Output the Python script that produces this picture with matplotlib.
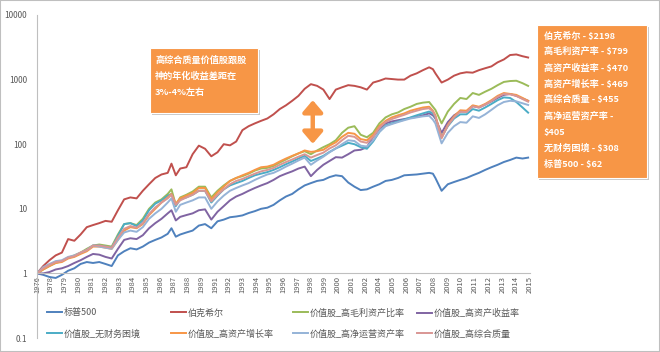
import numpy as np
import matplotlib
matplotlib.use('Agg')
import matplotlib.pyplot as plt
from matplotlib.patches import Rectangle, FancyArrowPatch

plt.rcParams['font.family'] = ['Noto Sans CJK SC', 'DejaVu Sans']

W, H = 660, 352

# time grid (years, half-year steps plus a few turning points)
t = [1976.0, 1976.5, 1977.0, 1977.5, 1978.0, 1978.5, 1979.0, 1979.5, 1980.0, 1980.5,
     1981.0, 1981.5, 1982.0, 1982.5, 1983.0, 1983.5, 1984.0, 1984.5, 1985.0, 1985.5,
     1986.0, 1986.5, 1986.8, 1987.15, 1987.5, 1988.0, 1988.5, 1989.0, 1989.5, 1990.0,
     1990.5, 1991.0, 1991.5, 1992.0, 1992.5, 1993.0, 1993.5, 1994.0, 1994.5, 1995.0,
     1995.5, 1996.0, 1996.5, 1997.0, 1997.5, 1998.0, 1998.5, 1999.0, 1999.5, 2000.0,
     2000.5, 2001.0, 2001.5, 2002.0, 2002.5, 2003.0, 2003.5, 2004.0, 2004.5, 2005.0,
     2005.5, 2006.0, 2006.5, 2007.0, 2007.5, 2007.8, 2008.0, 2008.5, 2009.0, 2009.5,
     2010.0, 2010.5, 2011.0, 2011.5, 2012.0, 2012.5, 2013.0, 2013.5, 2014.0, 2014.5,
     2015.0, 2015.45]

sp500 = [1.0, 0.95, 0.88, 0.85, 0.95, 1.1, 1.2, 1.4, 1.5, 1.45,
         1.5, 1.4, 1.3, 1.9, 2.2, 2.45, 2.35, 2.6, 3.0, 3.3,
         3.6, 4.1, 5.0, 3.7, 4.0, 4.3, 4.6, 5.5, 5.8, 5.0,
         6.4, 6.8, 7.4, 7.6, 7.9, 8.6, 9.2, 10.0, 10.4, 11.5,
         13.5, 15.5, 17, 20, 23, 25, 27, 28, 31, 33,
         32, 25.5, 22, 19.5, 20, 22, 24, 27, 28, 30,
         33, 33.5, 34, 35, 36, 35, 30, 19, 24, 26,
         28, 30, 33, 36, 40, 44, 48, 53, 57, 62,
         60, 62]

brk = [1.0, 1.3, 1.6, 1.9, 2.1, 3.4, 3.2, 4.0, 5.2, 5.6,
       6.0, 6.5, 6.3, 9.5, 14, 15, 14.5, 19, 24, 30,
       34, 36, 50, 33, 42, 44, 70, 95, 85, 65,
       75, 100, 96, 110, 165, 190, 210, 230, 250, 290,
       350, 400, 470, 560, 720, 850, 800, 700, 500, 700,
       760, 820, 800, 760, 700, 900, 960, 1040, 1020, 1000,
       1000, 1150, 1250, 1400, 1550, 1450, 1250, 900, 1000, 1150,
       1250, 1300, 1280, 1400, 1500, 1600, 1850, 2050, 2400, 2450,
       2300, 2198]

gross_profit = [1.0, 1.15, 1.3, 1.45, 1.55, 1.75, 1.9, 2.1, 2.4, 2.7,
                2.8, 2.7, 2.6, 4.0, 5.8, 6.0, 5.6, 7.0, 10, 12.5,
                14, 17, 20, 11.5, 15, 16.5, 18.5, 22, 22, 15,
                19, 23, 27, 30, 32, 35, 39, 42, 43, 46,
                52, 58, 65, 72, 78, 70, 80, 90, 100, 115,
                150, 180, 190, 140, 128, 150, 210, 260, 290, 310,
                350, 380, 420, 440, 450, 380, 340, 210, 320, 420,
                520, 500, 620, 580, 650, 720, 820, 920, 950, 960,
                880, 799]

roa = [1.0, 1.0, 1.05, 1.15, 1.2, 1.3, 1.45, 1.6, 1.8, 2.0,
       1.95, 1.8, 1.7, 2.4, 3.3, 3.5, 3.4, 3.9, 5.0, 6.0,
       7.0, 8.5, 9.5, 6.6, 7.5, 8.0, 8.5, 9.5, 9.8, 6.8,
       9, 11, 13.5, 15.5, 17, 19, 21, 23, 25, 28,
       32, 35, 38, 42, 45, 32, 40, 48, 55, 63,
       62, 70, 80, 82, 90, 130, 175, 210, 225, 235,
       245, 255, 265, 280, 300, 280, 250, 150, 220, 280,
       320, 320, 390, 370, 410, 460, 520, 580, 600, 560,
       510, 470]

no_distress = [1.0, 1.2, 1.35, 1.5, 1.55, 1.75, 1.85, 2.05, 2.3, 2.7,
               2.7, 2.6, 2.5, 3.8, 5.8, 6.0, 5.4, 6.6, 9.5, 12,
               13.5, 16, 17, 11, 14, 15, 16.5, 19, 19, 12.5,
               16, 20, 23, 25, 27, 30, 33, 35, 37, 40,
               44, 49, 54, 60, 66, 55, 60, 66, 76, 86,
               95, 105, 100, 90, 85, 110, 155, 195, 210, 225,
               240, 260, 280, 300, 320, 300, 260, 130, 190, 250,
               290, 290, 350, 330, 370, 420, 480, 530, 520, 450,
               370, 308]

asset_growth = [1.0, 1.15, 1.3, 1.45, 1.5, 1.7, 1.8, 2.0, 2.2, 2.6,
                2.6, 2.5, 2.4, 3.3, 4.6, 5.2, 5.0, 5.8, 8, 10,
                12.5, 15, 17, 12, 14.5, 16, 17.5, 21, 21, 14,
                18, 22, 27, 30, 33, 36, 40, 44, 45, 48,
                54, 60, 66, 72, 80, 76, 78, 82, 95, 107,
                130, 150, 145, 120, 115, 140, 190, 230, 260, 280,
                300, 330, 350, 370, 380, 330, 280, 125, 200, 270,
                335, 330, 400, 380, 420, 480, 560, 620, 600, 580,
                520, 469]

net_operating = [1.0, 1.25, 1.4, 1.55, 1.6, 1.8, 1.9, 2.1, 2.3, 2.7,
                 2.6, 2.5, 2.4, 3.3, 4.3, 4.6, 4.4, 5.2, 7.0, 8.5,
                 10.0, 12.5, 14.5, 9.0, 11.5, 12.5, 13.5, 15, 15, 10,
                 13, 16, 19, 21, 23, 25, 28, 31, 34, 36,
                 40, 45, 50, 56, 62, 48, 56, 64, 75, 86,
                 100, 115, 112, 95, 92, 115, 155, 190, 205, 220,
                 235, 250, 260, 270, 275, 240, 210, 103, 150, 190,
                 220, 215, 270, 255, 290, 340, 400, 450, 470, 460,
                 430, 405]

quality = [1.0, 1.2, 1.35, 1.5, 1.55, 1.75, 1.85, 2.1, 2.3, 2.7,
           2.7, 2.6, 2.5, 3.6, 4.9, 5.4, 5.1, 6.0, 8.3, 10.5,
           12.5, 14.5, 16.5, 11.5, 13.5, 15, 16.5, 19, 19, 13,
           16.5, 20, 24, 27, 29, 32, 35, 38, 40, 43,
           48, 53, 58, 64, 70, 62, 68, 74, 86, 96,
           115, 135, 130, 110, 105, 130, 180, 220, 245, 265,
           285, 310, 330, 350, 360, 320, 270, 125, 195, 260,
           320, 315, 385, 370, 410, 465, 540, 600, 590, 560,
           500, 455]

series = [
    ('标普500', sp500, '#4F81BD'),
    ('伯克希尔', brk, '#C0504D'),
    ('价值股_高毛利资产比率', gross_profit, '#9BBB59'),
    ('价值股_高资产收益率', roa, '#8064A2'),
    ('价值股_无财务困境', no_distress, '#4BACC6'),
    ('价值股_高资产增长率', asset_growth, '#F79646'),
    ('价值股_高净运营资产率', net_operating, '#95B3D7'),
    ('价值股_高综合质量', quality, '#D99694'),
]

tick_labels = (['1976'] + [str(y) for y in range(1978, 1990)]
               + [str(y) for y in range(1991, 2003)]
               + [str(y) for y in range(2004, 2016)])

note_lines = ['高综合质量价值股跟股', '神的年化收益差距在', '3%-4%左右']
result_lines = ['伯克希尔 - $2198', '高毛利资产率 - $799', '高资产收益率 - $470',
                '高资产增长率 - $469', '高综合质量 - $455', '高净运营资产率 -',
                '$405', '无财务困境 - $308', '标普500 - $62']

fig = plt.figure(figsize=(W / 100, H / 100), dpi=100)
ax = fig.add_axes([37 / W, (H - 338) / H, (530 - 37) / W, (338 - 15) / H])

lines = {}
for name, vals, color in series:
    lines[name], = ax.plot(t, vals, color=color, lw=1.4, solid_joinstyle='round')

ax.set_yscale('log')
ax.set_ylim(0.1, 10000)
ax.set_xlim(1976, 2015.6)
ax.set_yticks([0.1, 1, 10, 100, 1000, 10000])
ax.set_yticklabels(['0.1', '1', '10', '100', '1000', '10000'])
ax.minorticks_off()
ax.set_xticks(np.linspace(1976, 2015.57, len(tick_labels)))
ax.set_xticklabels(tick_labels)

for s in ['top', 'right']:
    ax.spines[s].set_visible(False)
ax.spines['left'].set_color('#BFBFBF')
ax.spines['bottom'].set_color('#BFBFBF')
ax.spines['bottom'].set_position(('data', 1))
ax.tick_params(axis='y', length=0, pad=7, labelsize=6, colors='#595959')
ax.tick_params(axis='x', length=0, pad=2, labelsize=5.5, colors='#595959',
               labelrotation=90)

# arrow between 伯克希尔 and the value stock group
arrow = FancyArrowPatch((1998.15, 92), (1998.15, 530),
                        arrowstyle='<|-|>,head_width=0.6,head_length=0.7',
                        mutation_scale=10, lw=3.2, color='#F79646', zorder=5)
ax.add_patch(arrow)

# legend, one block per column
cols = [
    (47, ['标普500', '价值股_无财务困境']),
    (171, ['伯克希尔', '价值股_高资产增长率']),
    (293, ['价值股_高毛利资产比率', '价值股_高净运营资产率']),
    (417, ['价值股_高资产收益率', '价值股_高综合质量']),
]
for x0, names in cols:
    leg = fig.legend([lines[n] for n in names], names, loc='center left',
                     bbox_to_anchor=(x0 / W, (H - 323.5) / H), frameon=False,
                     fontsize=6.5, handlelength=1.7, handletextpad=0.2,
                     labelspacing=1.3, borderpad=0, borderaxespad=0)
    for txt in leg.get_texts():
        txt.set_color('#595959')


def box(x0, y0, x1, y1):
    fig.add_artist(Rectangle(((x0 + 2) / W, (H - y1 - 2) / H), (x1 - x0) / W, (y1 - y0) / H,
                             transform=fig.transFigure, fc='#C8C8C8', ec='none'))
    fig.add_artist(Rectangle((x0 / W, (H - y1) / H), (x1 - x0) / W, (y1 - y0) / H,
                             transform=fig.transFigure, fc='#F79646', ec='white', lw=0.8))


box(150, 48, 258, 113)
for i, line in enumerate(note_lines):
    fig.text(155 / W, (H - (60 + 16 * i)) / H, line, color='white', fontsize=6.6,
             fontweight='bold', va='center', ha='left')

box(537, 25, 647, 178)
for i, line in enumerate(result_lines):
    fig.text(544 / W, (H - (36 + 16 * i)) / H, line, color='white', fontsize=6.6,
             fontweight='bold', va='center', ha='left')

# outer frame
fig.add_artist(Rectangle((0, 0), 1, 1, transform=fig.transFigure, fill=False,
                         ec='#BFBFBF', lw=1.5))

fig.savefig('out.png', dpi=100)
